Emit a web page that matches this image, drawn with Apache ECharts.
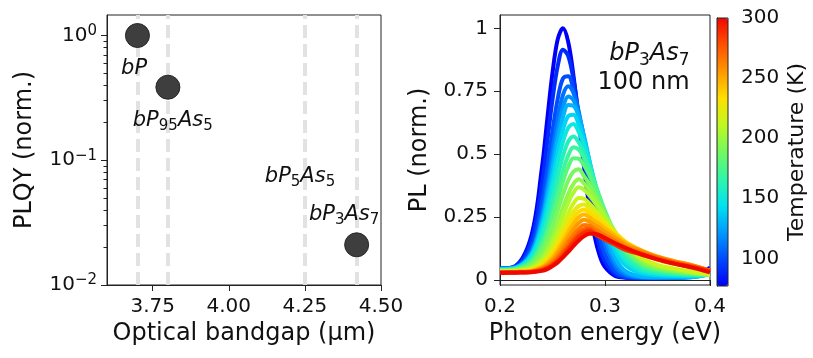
<!DOCTYPE html>
<html><head><meta charset="utf-8">
<script src="https://cdn.jsdelivr.net/npm/echarts@6/dist/echarts.min.js"></script>
<style>html,body{margin:0;padding:0;background:#fff}#c{width:813px;height:358px}</style>
</head><body><div id="c"></div>
<script>
// ---------- left panel data ----------
const sampleNames = ['bP', 'bP95As5', 'bP5As5', 'bP3As7'];
const markerLinesBandgap = [3.70, 3.80, 4.25, 4.42];
const pointBandgap = [3.70, 3.80, 4.42];
const pointPLQY = [1.0, 0.385, 0.021];
const labelBandgap = [3.689, 3.816, 4.234, 4.379];
const labelPLQY = [0.54, 0.207, 0.0736, 0.0365];
const bandgapTicks = [3.75, 4.00, 4.25, 4.50];
const plqyTicks = [0.01, 0.1, 1];
const plqyMinorTicks = [0.02,0.03,0.04,0.05,0.06,0.07,0.08,0.09,0.2,0.3,0.4,0.5,0.6,0.7,0.8,0.9];

// ---------- right panel data ----------
const energy = [0.200,0.215,0.230,0.240,0.245,0.250,0.255,0.260,0.265,0.270,0.275,0.280,0.285,0.290,0.295,0.300,0.310,0.320,0.335,0.350,0.365,0.385,0.400];
const temperatureK = [77,90,100,110,120,130,140,150,160,170,180,190,197,205,215,225,235,245,255,265,275,288,300];
const pl077 = [.045,.056,.178,.449,.638,.823,.957,1.000,.945,.811,.633,.450,.293,.175,.096,.051,.015,.009,.007,.007,.009,.022,.048];
const pl090 = [.045,.054,.156,.383,.548,.717,.851,.915,.890,.796,.654,.493,.343,.219,.130,.073,.022,.010,.007,.007,.008,.018,.040];
const pl100 = [.045,.052,.130,.309,.445,.592,.721,.801,.810,.755,.652,.520,.385,.265,.169,.102,.033,.013,.008,.008,.008,.015,.034];
const pl110 = [.045,.051,.114,.263,.381,.516,.643,.736,.770,.743,.669,.560,.438,.320,.218,.141,.051,.019,.010,.009,.009,.013,.030];
const pl120 = [.044,.050,.108,.244,.351,.474,.594,.686,.729,.715,.657,.567,.459,.348,.249,.168,.067,.026,.011,.010,.010,.012,.026];
const pl130 = [.043,.049,.104,.229,.327,.441,.555,.647,.695,.692,.649,.573,.477,.375,.279,.197,.086,.034,.014,.011,.011,.012,.024];
const pl140 = [.042,.048,.099,.211,.300,.404,.510,.598,.651,.657,.618,.556,.476,.388,.302,.226,.114,.057,.026,.019,.016,.015,.022];
const pl150 = [.041,.047,.094,.196,.275,.369,.467,.550,.605,.620,.588,.536,.469,.393,.317,.245,.136,.072,.034,.024,.020,.018,.022];
const pl160 = [.040,.045,.083,.169,.239,.322,.412,.493,.550,.570,.547,.504,.449,.385,.318,.255,.151,.086,.043,.029,.024,.020,.021];
const pl170 = [.039,.043,.074,.145,.203,.277,.357,.435,.495,.527,.518,.486,.441,.387,.330,.273,.173,.105,.054,.036,.028,.022,.021];
const pl180 = [.038,.042,.070,.133,.185,.250,.322,.393,.450,.484,.482,.455,.417,.372,.323,.272,.182,.116,.062,.041,.032,.024,.021];
const pl190 = [.037,.040,.062,.114,.158,.214,.277,.341,.396,.431,.440,.413,.382,.345,.304,.261,.183,.122,.069,.046,.036,.026,.021];
const pl197 = [.036,.038,.053,.093,.128,.174,.230,.288,.342,.382,.400,.384,.359,.329,.295,.259,.189,.132,.078,.052,.040,.028,.022];
const pl205 = [.035,.037,.049,.082,.112,.153,.203,.256,.308,.347,.368,.359,.337,.310,.281,.250,.189,.137,.084,.057,.044,.030,.022];
const pl215 = [.034,.035,.045,.072,.096,.130,.173,.220,.266,.304,.326,.323,.304,.282,.257,.232,.180,.135,.087,.060,.046,.032,.023];
const pl225 = [.033,.034,.042,.063,.084,.113,.150,.192,.235,.271,.294,.300,.284,.265,.246,.227,.187,.149,.108,.080,.064,.047,.030];
const pl235 = [.032,.033,.039,.057,.075,.100,.133,.172,.212,.247,.271,.280,.266,.251,.235,.218,.183,.150,.116,.090,.072,.054,.034];
const pl245 = [.031,.032,.036,.052,.067,.089,.118,.153,.190,.224,.249,.260,.249,.235,.221,.206,.175,.146,.117,.093,.075,.056,.036];
const pl255 = [.031,.032,.035,.048,.060,.079,.105,.136,.169,.201,.226,.239,.232,.219,.206,.192,.166,.140,.115,.093,.076,.056,.037];
const pl265 = [.030,.031,.033,.043,.054,.070,.092,.119,.150,.179,.203,.218,.215,.203,.190,.178,.154,.131,.110,.090,.073,.055,.038];
const pl275 = [.030,.031,.033,.041,.050,.063,.083,.107,.134,.162,.186,.201,.205,.190,.178,.167,.144,.123,.104,.086,.070,.052,.036];
const pl288 = [.030,.030,.032,.039,.047,.059,.075,.097,.123,.149,.173,.189,.195,.183,.171,.160,.139,.119,.100,.082,.066,.050,.035];
const pl300 = [.028,.029,.031,.036,.043,.055,.070,.090,.112,.135,.157,.174,.184,.184,.177,.167,.146,.127,.102,.082,.066,.047,.030];
const plCurves = [pl077,pl090,pl100,pl110,pl120,pl130,pl140,pl150,pl160,pl170,pl180,pl190,pl197,pl205,pl215,pl225,pl235,pl245,pl255,pl265,pl275,pl288,pl300];
const energyTicks = [0.2, 0.3, 0.4];
const plTicks = [0, 0.25, 0.5, 0.75, 1];
const tempTicks = [100, 150, 200, 250, 300];
const tempRange = [77, 300];
const annotationText = ['bP3As7', '100 nm'];
const annotationEnergy = [0.3805, 0.3805];
const annotationPL = [0.897, 0.782];

// ---------- styling ----------
const FONT = 'DejaVu Sans';
const TXT = '#111';
const AX = '#222';
const jet = ['#0000f8','#004aff','#009aff','#00e2f2','#30f6a8','#72f860','#c0f820','#ffe000','#ff9800','#ff5000','#f00800'];
const tColor = T => echarts.color.lerp((T - tempRange[0]) / (tempRange[1] - tempRange[0]), jet);

function toRich(name, mainKey, subKey) {
  return name.replace(/([A-Za-z]+)|(\d+)/g, (m, a, d) => a ? `{${mainKey}|${a}}` : `{${subKey}|${d}}`);
}
const supExp = v => { const e = Math.round(Math.log10(v)); return '{b|10}{sup|' + (e < 0 ? '\u2212' + (-e) : e) + '}'; };

const axisCommon = {
  axisLine: { show: true, lineStyle: { color: AX, width: 1 } },
  axisTick: { show: true, inside: false, length: 6, lineStyle: { color: AX, width: 1 } },
  splitLine: { show: false },
  nameTextStyle: { fontFamily: FONT, fontSize: 24, color: TXT },
  nameLocation: 'middle'
};
const labelCommon = { fontFamily: FONT, fontSize: 20, color: TXT };

const series = [];
// dashed marker lines (left)
series.push({
  type: 'scatter', xAxisIndex: 0, yAxisIndex: 0, data: [], z: 1, silent: true,
  markLine: {
    silent: true, symbol: 'none', animation: false, z: 1,
    label: { show: false },
    lineStyle: { color: '#e2e2e2', width: 4, type: [13, 6] },
    data: markerLinesBandgap.map(v => ({ xAxis: v }))
  }
});
// points
series.push({
  type: 'scatter', xAxisIndex: 0, yAxisIndex: 0, z: 10, silent: true,
  symbolSize: 24,
  itemStyle: { color: '#3e3e3e', borderColor: '#262626', borderWidth: 1, opacity: 1 },
  data: pointBandgap.map((x, i) => [x, pointPLQY[i]])
});
// sample labels
const plainLabel = { color: TXT, textBorderWidth: 0, textShadowBlur: 0, opacity: 1 };
series.push({
  type: 'scatter', xAxisIndex: 0, yAxisIndex: 0, z: 11, silent: true,
  symbolSize: 0, itemStyle: { color: '#000', opacity: 1 },
  data: sampleNames.map((n, i) => ({ value: [labelBandgap[i], labelPLQY[i]], name: n })),
  label: Object.assign({}, plainLabel, {
    show: true, position: 'inside',
    formatter: p => toRich(p.name, 'i', 's'),
    rich: {
      i: { fontFamily: FONT, fontStyle: 'italic', fontSize: 21, color: TXT, lineHeight: 26 },
      s: { fontFamily: FONT, fontSize: 15, color: TXT, lineHeight: 16, verticalAlign: 'bottom' }
    }
  })
});
// PL curves
temperatureK.forEach((T, k) => {
  series.push({
    type: 'line', xAxisIndex: 1, yAxisIndex: 2, silent: true,
    showSymbol: false, symbol: 'none', smooth: 0.35, clip: true,
    lineStyle: { width: 4, color: tColor(T) },
    data: energy.map((x, i) => [x, plCurves[k][i]])
  });
});
// annotation
series.push({
  type: 'scatter', xAxisIndex: 1, yAxisIndex: 2, z: 20, silent: true,
  symbolSize: 0, itemStyle: { color: '#000', opacity: 1 },
  data: annotationText.map((t, i) => ({ value: [annotationEnergy[i], annotationPL[i]], name: t })),
  label: Object.assign({}, plainLabel, {
    show: true, position: 'left', distance: 0,
    formatter: p => p.dataIndex === 0 ? toRich(p.name, 'i', 's') : '{n|' + p.name + '}',
    rich: {
      i: { fontFamily: FONT, fontStyle: 'italic', fontSize: 24, color: TXT, lineHeight: 30 },
      s: { fontFamily: FONT, fontSize: 17, color: TXT, lineHeight: 18, verticalAlign: 'bottom' },
      n: { fontFamily: FONT, fontSize: 24, color: TXT, lineHeight: 30 }
    }
  })
});
// dummy series for colorbar
const dummyIdx = series.length;
series.push({ type: 'scatter', xAxisIndex: 2, yAxisIndex: 3, data: [] });

const option = {
  animation: false,
  backgroundColor: '#fff',
  grid: [
    { left: 107, top: 15, width: 274, height: 270, show: true, borderColor: AX, borderWidth: 1, outerBoundsMode: 'none', containLabel: false },
    { left: 500, top: 15, width: 210, height: 270, show: true, borderColor: AX, borderWidth: 1, outerBoundsMode: 'none', containLabel: false },
    { left: 717, top: 18, width: 11, height: 268, show: true, borderColor: AX, borderWidth: 1, z: 10, backgroundColor: 'transparent', outerBoundsMode: 'none', containLabel: false }
  ],
  xAxis: [
    Object.assign({}, axisCommon, {
      gridIndex: 0, type: 'value', min: 3.6, max: 4.5,
      name: 'Optical bandgap (\u03bcm)', nameGap: 37,
      axisTick: Object.assign({}, axisCommon.axisTick, { customValues: bandgapTicks }),
      axisLabel: Object.assign({}, labelCommon, { customValues: bandgapTicks, margin: 12, formatter: v => v.toFixed(2) })
    }),
    Object.assign({}, axisCommon, {
      gridIndex: 1, type: 'value', min: 0.2, max: 0.4,
      name: 'Photon energy (eV)', nameGap: 37,
      axisTick: Object.assign({}, axisCommon.axisTick, { customValues: energyTicks }),
      axisLabel: Object.assign({}, labelCommon, { customValues: energyTicks, margin: 12, formatter: v => v.toFixed(1) })
    }),
    { gridIndex: 2, type: 'value', min: 0, max: 1, show: false }
  ],
  yAxis: [
    Object.assign({}, axisCommon, {
      gridIndex: 0, type: 'log', logBase: 10, min: 0.01, max: 1.46, position: 'left',
      name: 'PLQY (norm.)', nameGap: 70, nameRotate: 90,
      axisTick: Object.assign({}, axisCommon.axisTick, { customValues: plqyTicks }),
      axisLabel: Object.assign({}, labelCommon, {
        customValues: plqyTicks, margin: 10, formatter: supExp,
        rich: {
          b: { fontFamily: FONT, fontSize: 20, color: TXT, lineHeight: 24 },
          sup: { fontFamily: FONT, fontSize: 15, color: TXT, lineHeight: 18, verticalAlign: 'top' }
        }
      })
    }),
    {
      gridIndex: 0, type: 'log', logBase: 10, min: 0.01, max: 1.46, position: 'left',
      axisLine: { show: false }, axisLabel: { show: false }, splitLine: { show: false },
      axisTick: { show: true, length: 3.5, customValues: plqyMinorTicks, lineStyle: { color: AX, width: 1 } }
    },
    Object.assign({}, axisCommon, {
      gridIndex: 1, type: 'value', min: -0.02, max: 1.053, position: 'left',
      name: 'PL (norm.)', nameGap: 68, nameRotate: 90,
      axisTick: Object.assign({}, axisCommon.axisTick, { customValues: plTicks }),
      axisLabel: Object.assign({}, labelCommon, { customValues: plTicks, margin: 12, formatter: v => String(v) })
    }),
    Object.assign({}, axisCommon, {
      gridIndex: 2, type: 'value', min: tempRange[0], max: tempRange[1], position: 'right',
      name: 'Temperature (K)', nameGap: 58, nameRotate: 90,
      nameTextStyle: { fontFamily: FONT, fontSize: 22, color: TXT },
      axisTick: Object.assign({}, axisCommon.axisTick, { customValues: tempTicks, length: 5 }),
      axisLabel: Object.assign({}, labelCommon, { customValues: tempTicks, margin: 13 })
    })
  ],
  visualMap: {
    type: 'continuous', min: tempRange[0], max: tempRange[1],
    seriesIndex: dummyIdx, calculable: false, hoverLink: false, realtime: false,
    inRange: { color: jet },
    itemWidth: 11, itemHeight: 268, left: 717, top: 18, padding: 0,
    text: null, showLabel: false, orient: 'vertical'
  },
  series
};
const chart = echarts.init(document.getElementById('c'), null, { renderer: 'canvas' });
chart.setOption(option);
</script></body></html>
